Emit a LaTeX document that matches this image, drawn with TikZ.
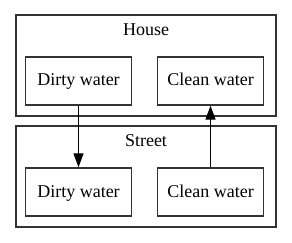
\documentclass[tikz,border=0pt]{standalone}
\usepackage{fontspec}
\setmainfont{Liberation Serif}
\usetikzlibrary{arrows.meta,positioning}
\tikzstyle{cluster}=[rectangle,draw=black!80,line width=1.3pt,minimum width=260pt,minimum height=101pt,inner sep=0pt]
\tikzstyle{water}=[rectangle,draw=black!80,line width=1.3pt,minimum width=106pt,minimum height=48pt,inner sep=0pt,text height=12pt,text depth=2pt,font=\fontsize{18}{21}\selectfont]
\tikzstyle{lbl}=[text height=12pt,text depth=2pt,font=\fontsize{18}{21}\selectfont]
\tikzstyle{arr}=[-{Triangle[length=14pt,width=10pt]},line width=1.2pt]
\begin{document}
\begin{tikzpicture}[x=1pt,y=-1pt]
\useasboundingbox (0,0) rectangle (292,243);
\node[cluster] (house) at (146,65.5) {};
\node[lbl] (houselbl) at (146,30.5) {House};
\node[water] (hdirty) at (78.5,81) {Dirty water};
\node[water] (hclean) at (210.5,81) {Clean water};
\node[cluster] (street) at (146,176.5) {};
\node[lbl] (streetlbl) at (146,141.5) {Street};
\node[water] (sdirty) at (78.5,192) {Dirty water};
\node[water] (sclean) at (210.5,192) {Clean water};
\draw[arr] (hdirty) -- (sdirty);
\draw[arr] (sclean) -- (hclean);
\end{tikzpicture}
\end{document}
